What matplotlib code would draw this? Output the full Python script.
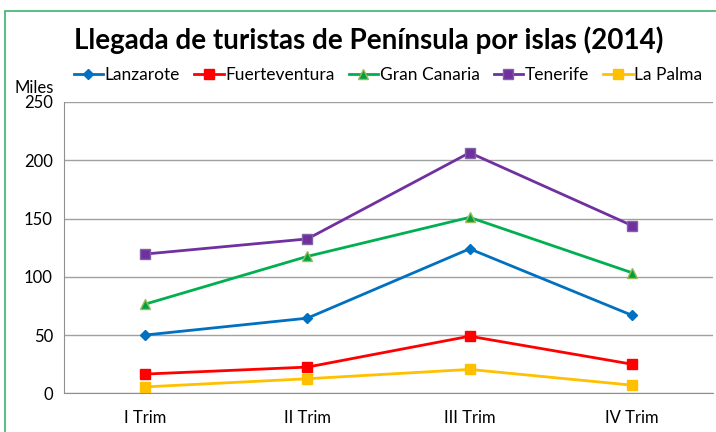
import matplotlib.pyplot as plt
from matplotlib.patches import Rectangle

plt.rcParams['font.family'] = ['Lato', 'DejaVu Sans']

trimestres = ['I Trim', 'II Trim', 'III Trim', 'IV Trim']
lanzarote = [50, 64.5, 124, 67]
fuerteventura = [16.5, 22.5, 49, 25]
gran_canaria = [76.5, 117.5, 151, 103.5]
tenerife = [119.5, 132.5, 206.5, 144]
la_palma = [5.5, 12.5, 20.5, 7]

fig = plt.figure(figsize=(7.16, 4.32), dpi=100)
ax = fig.add_axes([64/716, 1-393.3/432, 649/716, 291.3/432])

x = range(len(trimestres))
ax.plot(x, lanzarote, color='#0070C0', lw=2, marker='D', ms=5.5, label='Lanzarote')
ax.plot(x, fuerteventura, color='#FF0000', lw=2, marker='s', ms=7, label='Fuerteventura')
ax.plot(x, gran_canaria, color='#00B050', lw=2, marker='^', ms=7, mec='#9BBB59', mfc='#00A040', label='Gran Canaria')
ax.plot(x, tenerife, color='#7030A0', lw=2, marker='s', ms=7, mec='#8064A2', label='Tenerife')
ax.plot(x, la_palma, color='#FFC000', lw=2, marker='s', ms=7, label='La Palma')

ax.set_xlim(-0.5, 3.5)
ax.set_ylim(0, 250)
ax.set_yticks(range(0, 251, 50))
ax.set_xticks(list(x))
ax.set_xticklabels(trimestres)
ax.grid(axis='y', color='#a0a0a0', lw=1)
ax.set_axisbelow(True)
for s in ['top', 'right']:
    ax.spines[s].set_visible(False)
for s in ['left', 'bottom']:
    ax.spines[s].set_color('#909090')
ax.tick_params(length=0, labelsize=12, pad=8)
ax.tick_params(axis='x', pad=12)

fig.text(14/716, 1-88/432, 'Miles', fontsize=12, va='center', ha='left')
fig.text(369/716, 1-40/432, 'Llegada de turistas de Península por islas (2014)',
         fontsize=20, fontweight='bold', ha='center', va='center')
fig.legend(loc='center', bbox_to_anchor=(388/716, 1-75/432), ncol=5, frameon=False,
           fontsize=12.5, handlelength=1.7, handletextpad=0.1, columnspacing=0.8,
           borderaxespad=0)

fig.patches.append(Rectangle((5/716, -0.1), 1.2, 1.1-11/432, transform=fig.transFigure,
                             fill=False, ec='#3CB371', lw=1.2))

fig.savefig('out.png', dpi=100)
